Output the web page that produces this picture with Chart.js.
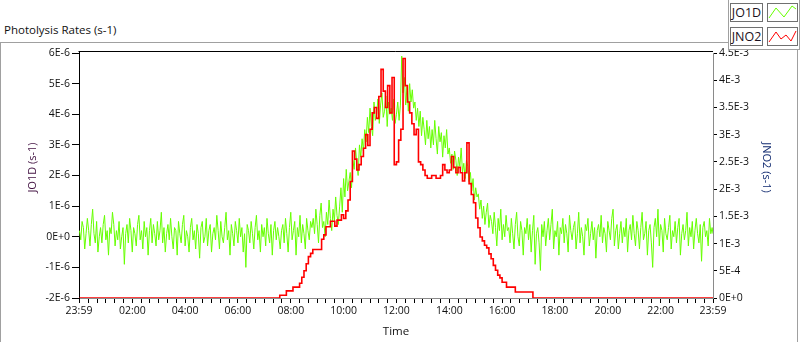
<!DOCTYPE html>
<html>
<head>
<meta charset="utf-8">
<script src="https://cdn.jsdelivr.net/npm/chart.js@4.4.1/dist/chart.umd.min.js"></script>
<style>
html,body{margin:0;padding:0;background:#fff;width:800px;height:342px;overflow:hidden;font-family:"Open Sans",sans-serif;}
#wrap{position:relative;width:800px;height:342px;}
#frame{position:absolute;left:0;top:42px;width:798px;height:302px;border-left:1px solid #a0a0a0;border-top:1px solid #a0a0a0;border-right:1px solid #a0a0a0;box-sizing:border-box;}
#title{position:absolute;left:4px;top:22px;font-size:11.5px;color:#111;white-space:nowrap;}
#chart{position:absolute;left:0;top:0;}
#legend{position:absolute;left:728px;top:-1px;width:72px;height:51px;border:1px solid #a0a0a0;background:#fff;box-sizing:border-box;}
.lg-name{position:absolute;left:1px;width:33px;height:19px;border:1px solid #707070;box-sizing:border-box;font-size:12.5px;text-align:center;line-height:17px;color:#1a1020;}
.lg-sample{position:absolute;left:38px;width:31px;height:19px;border:1px solid #707070;box-sizing:border-box;}
.lg-sample svg{position:absolute;left:0;top:0;}
</style>
</head>
<body>
<div id="wrap">
  <div id="frame"></div>
  <div id="title">Photolysis Rates (s-1)</div>
  <canvas id="chart" width="800" height="342"></canvas>
  <div id="legend">
    <div class="lg-name" style="top:3px">JO1D</div>
    <div class="lg-sample" style="top:3px"><svg width="29" height="17"><polyline points="1,14 8,4 16,13 24,2 28,5" stroke="#66ff00" stroke-width="1" fill="none"/></svg></div>
    <div class="lg-name" style="top:27px">JNO2</div>
    <div class="lg-sample" style="top:27px"><svg width="29" height="17"><polyline points="1,14 8,4 13,11 18,7 23,13 28,3" stroke="#ff0000" stroke-width="1" fill="none"/></svg></div>
  </div>
</div>
<script>
// ---------------- data ----------------
// Each series is sampled at a fixed step from 00:00; its last sample sits at 23:59.
const DAY_END_MINUTE = 1439;
const JO1D_STEP_MINUTES = 3;
const JNO2_STEP_MINUTES = 5;

// JO1D photolysis rate, in units of 1E-6 s-1 (left axis), one value every 3 minutes
const jo1d = [
  0.2, -0.1, 0.5, 0.3, -0.4, 0.1, 0.6, 0.2, -0.3, 0.4, 0.9, 0.1, -0.2, 0.5,
  -0.5, 0.0, 0.3, -0.2, 0.4, 0.7, -0.1, 0.2, -0.6, 0.3, 0.1, 0.8, 0.4, -0.3,
  0.2, -0.1, 0.5, -0.4, 0.0, 0.3, -0.9, 0.1, 0.4, -0.2, 0.6, 0.2, -0.5, 0.3,
  0.1, -0.3, 0.4, 0.7, -0.1, 0.2, -0.4, 0.5, 0.0, 0.3, -0.6, 0.2, 0.6, -0.2,
  0.4, 0.1, -0.3, 0.5, -0.1, 0.2, 0.8, -0.2, 0.3, -0.5, 0.1, 0.4, -0.1, 0.6,
  0.0, -0.4, 0.3, 0.2, -0.6, 0.5, 0.1, -0.2, 0.4, 0.7, -0.3, 0.2, 0.0, -0.5,
  0.3, 0.6, -0.1, 0.2, -0.4, 0.4, 0.1, -0.7, 0.3, 0.5, -0.2, 0.0, 0.6, -0.3,
  0.2, 0.4, -0.5, 0.1, 0.3, -0.1, 0.7, 0.2, -0.4, 0.5, 0.0, -0.2, 0.3, 0.8,
  -0.1, 0.2, -0.6, 0.4, 0.1, -0.3, 0.5, 0.2, -0.2, 0.6, 0.0, 0.3, -0.5, 0.1,
  -1.0, 0.4, 0.2, -0.2, 0.5, 0.1, -0.4, 0.3, 0.7, -0.1, 0.2, -0.5, 0.4, 0.0,
  0.3, -0.3, 0.6, 0.1, -0.2, 0.4, -0.6, 0.2, 0.5, -0.1, 0.3, 0.0, -0.4, 0.2,
  0.4, -0.2, 0.6, 0.1, -0.5, 0.3, 0.8, -0.1, 0.2, 0.5, -0.6, 0.3, 0.0, 0.7, -0.2, 0.4, 0.1, -0.4, 0.6, 0.2, -0.1, 0.5, 0.3,
  0.6, 0.1, 0.9, 0.4, -0.2, 0.7, 1.1, 0.3, 0.5, 0.0, 0.8, 0.4, 1.2, 0.6, 0.2, 0.9, 0.5, 1.3, 0.7, 0.4,
  1.0, 1.6, 0.8, 1.9, 1.3, 2.2, 1.5, 1.8,
  2.1, 1.6, 2.5, 2.2, 2.9, 2.4, 2.0, 3.0, 2.6, 3.2,
  2.8, 3.5, 3.1, 3.9, 3.4, 4.2, 3.6, 3.3, 4.4, 3.8,
  4.0, 4.5, 3.7, 4.3, 4.7, 3.9, 4.1, 4.6, 3.6, 4.4, 4.0, 4.2, 3.8, 4.5, 3.7,
  4.0, 4.4, 3.8, 4.3,
  5.9, 4.7, 5.2, 4.3, 4.9, 4.1, 5.0, 4.4, 4.8, 4.2,
  4.4, 3.8, 4.2, 3.6, 4.1, 3.3, 3.9, 3.5, 3.0, 3.8, 3.2, 3.6, 2.9,
  3.5, 3.0, 3.8, 3.2, 2.7, 3.6, 3.1, 3.4, 2.6, 3.3, 2.9, 3.5, 2.7,
  2.9, 2.4, 2.7, 2.2, 2.8, 2.5, 2.0, 2.6, 2.3, 2.9, 2.1, 2.4, 1.9, 2.5,
  2.3, 1.8, 2.1, 1.5, 1.9, 1.2, 1.6, 1.3,
  1.4, 0.9, 1.2, 0.6, 1.0, 0.4, 0.8, 1.1, 0.3, 0.7,
  0.5, 0.1, 0.8, 0.3, -0.3, 0.6, 0.2, 0.9, -0.1, 0.4, 0.0, 0.7, 0.2,
  0.3, -0.2, 0.6, 0.1, -0.4, 0.4, 0.8, 0.0, -0.3, 0.5, 0.2, -0.6, 0.3, 0.1,
  0.6, -0.1, 0.4, -0.5, 0.2, 0.7, -0.9, 0.1, 0.3, -0.2, -1.1, 0.4, 0.0, 0.5,
  -0.3, 0.2, 0.6, -0.1, 0.4, 0.9, -0.4, 0.2, 0.0, 0.5, -0.6, 0.3, 0.1, 0.6,
  -0.2, 0.4, 0.1, -0.5, 0.7, 0.2, -0.1, 0.3, 0.5, -0.4, 0.1, 0.8, -0.2, 0.3,
  0.0, -0.6, 0.4, 0.2, 0.6, -0.3, 0.1, 0.5, -0.1, 0.3, -0.7, 0.2, 0.4, 0.0,
  0.7, -0.2, 0.3, 0.1, -0.5, 0.5, 0.2, -0.1, 0.6, 0.9, -0.3, 0.2, 0.4, -0.4,
  0.1, 0.5, -0.2, 0.3, 0.0, 0.6, -0.5, 0.2, 0.4, -0.1, 0.7, 0.1, -0.3, 0.5,
  0.2, -0.4, 0.3, 0.8, -0.1, 0.1, 0.5, -0.6, 0.2, 0.4, -0.2, -1.0, 0.3, 0.6,
  0.0, 0.9, -0.3, 0.4, 0.2, -0.5, 0.6, 0.1, -0.1, 0.3, 0.7, -0.4, 0.2, 0.0,
  0.5, -0.2, 0.3, 0.6, -0.6, 0.1, 0.4, -0.1, 0.2, 0.8, -0.3, 0.3, 0.0, 0.5,
  -0.4, 0.2, 0.6, 0.1, -0.2, 0.4, -0.8, 0.3, 0.5, 0.0, 0.2, -0.3, 0.6, 0.1,
  0.3,
  0.1
];

// JNO2 photolysis rate, in units of 1E-3 s-1 (right axis), one value every 5 minutes
const jno2 = [
  0,0,0,0,0,0,0,0,0,0, 0,0,0,0,0,0,0,0,0,0, 0,0,0,0,0,0,0,0,0,0,
  0,0,0,0,0,0,0,0,0,0, 0,0,0,0,0,0,0,0,0,0, 0,0,0,0,0,0,0,0,0,0,
  0,0,0,0,0,0,0,0,0,0, 0,0,0,0,0,0,0,0,0,0, 0,0,0,0,0,0,0,0,0,0,
  0,
  0.05, 0.05, 0.05, 0.13, 0.13, 0.13, 0.2, 0.2, 0.2, 0.27, 0.38, 0.5, 0.63, 0.76, 0.82,
  0.89, 0.89, 0.89, 0.89, 1.08, 1.16, 1.31, 1.31, 1.41, 1.41, 1.32, 1.43, 1.43, 1.53, 1.46,
  1.6, 1.8, 2.14,
  2.7, 2.55, 2.35, 2.45, 2.6, 2.75, 3.0, 2.8, 3.1, 3.4, 3.5, 3.3, 3.7, 4.2, 3.8, 3.5, 3.9, 3.4, 4.05,
  2.45, 2.5, 2.9, 3.1, 4.4, 3.9, 3.6, 3.4, 3.2, 3.0, 3.1, 2.5, 2.45, 2.35, 2.25, 2.2, 2.2, 2.25, 2.25,
  2.2, 2.2, 2.25, 2.45, 2.35, 2.3, 2.35, 2.6, 2.4, 2.3, 2.4, 2.3, 2.15, 2.3, 2.85, 2.1, 1.9, 1.75,
  1.47, 1.29, 1.12, 1.05, 0.97, 0.92, 0.81, 0.72, 0.6, 0.51, 0.42, 0.37, 0.29,
  0.29, 0.2, 0.2, 0.2, 0.2, 0.11, 0.11, 0.11, 0.11, 0.11, 0.11, 0.11, 0.11,
  0,0,0,0,0,0,0,0,0,0, 0,0,0,0,0,0,0,0,0,0, 0,0,0,0,0,0,0,0,0,0,
  0,0,0,0,0,0,0,0,0,0, 0,0,0,0,0,0,0,0,0,0, 0,0,0,0,0,0,0,0,0,0,
  0,0,0,0,0,0,0,0,0,0, 0,0,0,0,0,0,0,0,0,0, 0,0,0
];

// axis ticks
const timeTickMinutes = [-1, 120, 240, 360, 480, 600, 720, 840, 960, 1080, 1200, 1320, 1439];
const timeTickLabels  = ["23:59", "02:00", "04:00", "06:00", "08:00", "10:00", "12:00", "14:00", "16:00", "18:00", "20:00", "22:00", "23:59"];
const timeMinorStepMinutes = 20;
const jo1dTickValues = [-2, -1, 0, 1, 2, 3, 4, 5, 6];
const jo1dTickLabels = ["-2E-6", "-1E-6", "0E+0", "1E-6", "2E-6", "3E-6", "4E-6", "5E-6", "6E-6"];
const jno2TickValues = [0, 0.5, 1, 1.5, 2, 2.5, 3, 3.5, 4, 4.5];
const jno2TickLabels = ["0E+0", "5E-4", "1E-3", "1.5E-3", "2E-3", "2.5E-3", "3E-3", "3.5E-3", "4E-3", "4.5E-3"];

const seriesNames = ["JO1D", "JNO2"];
const axisTitles = { x: "Time", left: "JO1D (s-1)", right: "JNO2 (s-1)" };

// ---------------- chart ----------------
const toPoints = (arr, step) => arr.map((v, i) => ({ x: Math.min(i * step, DAY_END_MINUTE), y: v }));

const allTimeTicks = [];
for (let m = timeMinorStepMinutes; m < DAY_END_MINUTE; m += timeMinorStepMinutes) allTimeTicks.push(m);
const tickSet = Array.from(new Set([...timeTickMinutes, ...allTimeTicks])).sort((a, b) => a - b);

const FONT = { family: "'Open Sans', sans-serif", size: 10.5 };
Chart.defaults.font.family = FONT.family;

const decor = {
  id: 'decor',
  afterDraw(chart) {
    const { ctx, chartArea: a } = chart;
    ctx.save();
    ctx.strokeStyle = '#000';
    ctx.lineWidth = 1;
    ctx.beginPath();
    ctx.moveTo(a.left - 0.5, a.top - 1.5);
    ctx.lineTo(a.right, a.top - 1.5);
    ctx.moveTo(a.left + 0.5, a.top - 2);
    ctx.lineTo(a.left + 0.5, a.top + 1);
    ctx.stroke();
    ctx.font = "11px 'Open Sans', sans-serif";
    ctx.textAlign = 'center';
    ctx.textBaseline = 'middle';
    const cy = (a.top + a.bottom) / 2 - 8;
    ctx.save();
    ctx.fillStyle = '#401040';
    ctx.translate(33, cy);
    ctx.rotate(-Math.PI / 2);
    ctx.fillText(axisTitles.left, 0, 0);
    ctx.restore();
    ctx.save();
    ctx.fillStyle = '#102a70';
    ctx.translate(766, cy);
    ctx.rotate(Math.PI / 2);
    ctx.fillText(axisTitles.right, 0, 0);
    ctx.restore();
    ctx.restore();
  }
};

new Chart(document.getElementById('chart'), {
  type: 'line',
  data: {
    datasets: [
      {
        label: seriesNames[0],
        data: toPoints(jo1d, JO1D_STEP_MINUTES),
        yAxisID: 'yLeft',
        borderColor: '#66ff00',
        borderWidth: 1,
        pointRadius: 0,
        stepped: false,
        tension: 0,
        order: 2
      },
      {
        label: seriesNames[1],
        data: toPoints(jno2, JNO2_STEP_MINUTES),
        yAxisID: 'yRight',
        borderColor: '#ff0000',
        borderWidth: 1.6,
        pointRadius: 0,
        stepped: 'before',
        order: 1
      }
    ]
  },
  options: {
    responsive: false,
    animation: false,
    devicePixelRatio: 1,
    layout: { padding: { top: 53, left: 0, right: 0, bottom: 0 } },
    plugins: { legend: { display: false }, tooltip: { enabled: false }, title: { display: false } },
    scales: {
      x: {
        type: 'linear',
        min: -1,
        max: DAY_END_MINUTE,
        afterBuildTicks: s => { s.ticks = tickSet.map(v => ({ value: v })); },
        afterFit: s => { s.height = 44; },
        ticks: {
          autoSkip: false, maxRotation: 0, minRotation: 0, padding: 2,
          color: '#111', font: FONT,
          callback: v => { const k = timeTickMinutes.indexOf(v); return k >= 0 ? timeTickLabels[k] : ''; }
        },
        grid: { display: true, drawOnChartArea: false, drawTicks: true, tickLength: 5, color: '#000' },
        border: { display: true, color: '#8a8a8a', width: 1 },
        title: { display: true, text: axisTitles.x, color: '#111', font: { family: FONT.family, size: 11.5 }, padding: { top: 0, bottom: 3 } }
      },
      yLeft: {
        type: 'linear', position: 'left', min: -2, max: 6,
        afterBuildTicks: s => { s.ticks = jo1dTickValues.map(v => ({ value: v })); },
        afterFit: s => { s.width = 79; },
        ticks: {
          color: '#111', font: FONT, padding: 2,
          callback: v => jo1dTickLabels[jo1dTickValues.indexOf(v)]
        },
        grid: { display: true, drawOnChartArea: false, drawTicks: true, tickLength: 7, color: '#000' },
        border: { display: true, color: '#000', width: 1 }
      },
      yRight: {
        type: 'linear', position: 'right', min: 0, max: 4.5,
        afterBuildTicks: s => { s.ticks = jno2TickValues.map(v => ({ value: v })); },
        afterFit: s => { s.width = 87; },
        ticks: {
          color: '#111', font: FONT, padding: 2,
          callback: v => jno2TickLabels[jno2TickValues.indexOf(v)]
        },
        grid: { display: true, drawOnChartArea: false, drawTicks: true, tickLength: 4, color: '#000' },
        border: { display: true, color: '#8a8a8a', width: 1 }
      }
    }
  },
  plugins: [decor]
});
</script>
</body>
</html>
